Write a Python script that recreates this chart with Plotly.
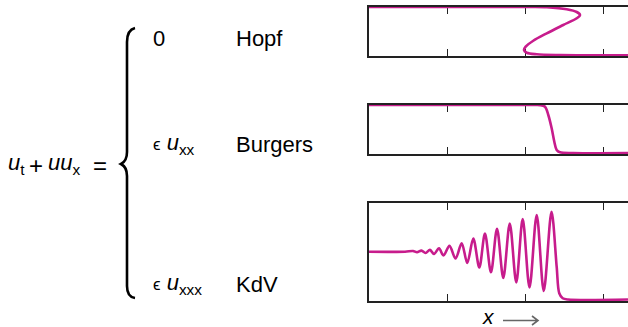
import plotly.graph_objects as go

W, H = 628, 327

# --- curve data (x in tick units, y normalised to each panel) ---
hopf_x = [0, 2.056, 2.270, 2.525, 2.653, 2.695, 2.653, 2.481, 2.270, 2.098,
          2.001, 1.980, 2.014, 2.142, 2.439, 3.308]
hopf_y = [1.0, 1.0, 0.994, 0.953, 0.898, 0.837, 0.769, 0.633, 0.463, 0.312,
          0.190, 0.122, 0.067, 0.035, 0.020, 0.014]

burgers_x = [0, 2.100, 2.184, 2.248, 2.290, 2.333, 2.367, 2.397, 2.439, 2.609, 3.308]
burgers_y = [1.0, 1.0, 0.998, 0.965, 0.796, 0.524, 0.251, 0.082, 0.035, 0.020, 0.018]

kdv_x = [0, 0.460, 0.562, 0.613, 0.670, 0.722, 0.779, 0.830, 0.894, 0.951,
         1.028, 1.105, 1.184, 1.255, 1.332, 1.409, 1.481, 1.558, 1.635, 1.715,
         1.798, 1.881, 1.963, 2.050, 2.142, 2.232, 2.331, 2.397, 2.430, 2.474,
         2.542, 3.308]
kdv_y = [0.503, 0.503, 0.510, 0.497, 0.514, 0.490, 0.522, 0.480, 0.538, 0.464,
         0.563, 0.434, 0.589, 0.388, 0.638, 0.342, 0.689, 0.293, 0.737, 0.235,
         0.791, 0.189, 0.835, 0.138, 0.878, 0.102, 0.911, 0.350, 0.079, 0.028,
         0.015, 0.015]

x_ticks = [1, 2, 3]
x_range = [0, 3.308]

EPS = "<span style='font-size:17px'>ϵ</span>"
row_terms = ["0", EPS + " <i>u</i><sub>xx</sub>", EPS + " <i>u</i><sub>xxx</sub>"]
row_names = ["Hopf", "Burgers", "KdV"]

CURVE = "#c71c8c"
INK = "#222222"
FONT = "Liberation Sans, Arial, sans-serif"


def px(x):
    return x / W


def py(y):
    return 1 - y / H


# panel frames in pixels (top, bottom)
panels = [(7, 56), (105, 154), (203, 301)]
series = [(hopf_x, hopf_y), (burgers_x, burgers_y), (kdv_x, kdv_y)]

fig = go.Figure()
layout = dict(
    width=W, height=H,
    margin=dict(l=0, r=0, t=0, b=0),
    paper_bgcolor="white", plot_bgcolor="white",
    showlegend=False,
)

for i, ((top, bot), (xs, ys)) in enumerate(zip(panels, series), start=1):
    sfx = "" if i == 1 else str(i)
    fig.add_trace(go.Scatter(
        x=xs, y=ys, mode="lines",
        line=dict(color=CURVE, width=2.6, shape="spline", smoothing=0.9),
        xaxis="x" + sfx, yaxis="y" + sfx, cliponaxis=False,
        hoverinfo="skip",
    ))
    layout["xaxis" + sfx] = dict(
        domain=[px(369), 1], range=x_range, anchor="y" + sfx,
        tickvals=x_ticks, ticks="inside", ticklen=7, tickwidth=1.3,
        tickcolor=INK, showticklabels=False, showline=True, linecolor=INK,
        linewidth=1.5, mirror="ticks", showgrid=False, zeroline=False,
        layer="below traces",
    )
    layout["yaxis" + sfx] = dict(
        domain=[py(bot), py(top)], range=[0, 1], anchor="x" + sfx,
        showline=True, linecolor=INK, linewidth=1.5, mirror=False,
        ticks="", showticklabels=False, showgrid=False, zeroline=False,
        layer="below traces",
    )

fig.update_layout(**layout)

ann = []


def text(s, x, y, size=22, anchor="left", color="black", family=FONT):
    ann.append(dict(text=s, x=px(x), y=py(y), xref="paper", yref="paper",
                    xanchor=anchor, yanchor="middle", showarrow=False,
                    font=dict(size=size, color=color, family=family)))


# left-hand side of the equation
text("<i>u</i><sub>t</sub>", 6, 164)
text("+", 36, 165, size=24, anchor="center")
text("<i>uu</i><sub>x</sub>", 46, 164)
text("=", 100, 165, size=24, anchor="center")

# cases
row_y = [38, 144, 284]
for term, name, y in zip(row_terms, row_names, row_y):
    text(term, 151, y)
    text(name, 234, y)

text("<i>x</i>", 488, 316, size=21, anchor="center")

fig.update_layout(annotations=ann)


def P(x, y):
    return f"{px(x):.5f},{py(y):.5f}"


brace = (f"M {P(135, 28)} Q {P(127, 30)} {P(127, 42)} L {P(127, 152)} "
         f"Q {P(127, 161)} {P(121, 164)} Q {P(127, 167)} {P(127, 176)} "
         f"L {P(127, 286)} Q {P(127, 297)} {P(135, 298)}")
arrow = (f"M {P(503, 320.5)} L {P(538, 320.5)} "
         f"M {P(532, 316)} L {P(538, 320.5)} L {P(532, 325)}")

fig.update_layout(shapes=[
    dict(type="path", path=brace, xref="paper", yref="paper",
         line=dict(color="black", width=2.6)),
    dict(type="path", path=arrow, xref="paper", yref="paper",
         line=dict(color="#666666", width=1.6)),
])

fig.write_html("out.html")
